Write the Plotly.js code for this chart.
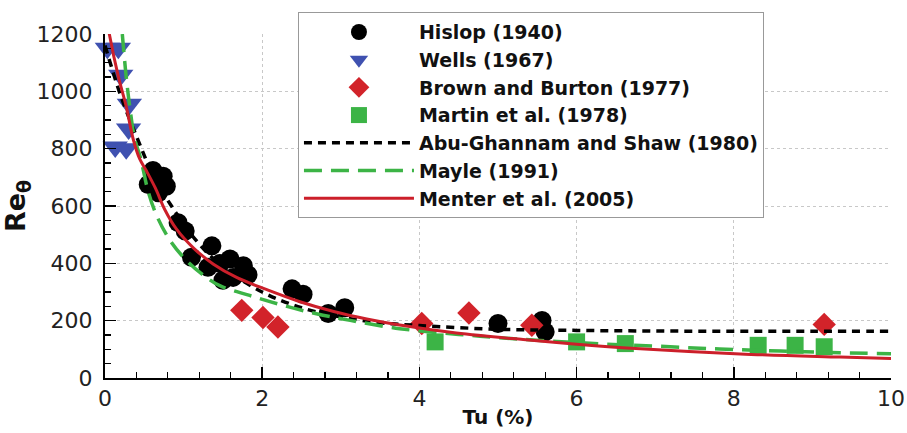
<!DOCTYPE html>
<html>
<head>
<meta charset="utf-8">
<script src="https://cdn.plot.ly/plotly-3.0.1.min.js"></script>
<style>html,body{margin:0;padding:0;background:#fff;}#chart{width:907px;height:433px;}</style>
</head>
<body>
<div id="chart"></div>
<script>
// Hislop (1940)
var hislopTu = [0.55, 0.61, 0.68, 0.74, 0.78, 0.93, 1.02, 1.10, 1.31, 1.36, 1.46, 1.50, 1.59, 1.63, 1.76, 1.82, 2.38, 2.52, 2.84, 3.05, 5.0, 5.56, 5.6];
var hislopRe = [675, 724, 646, 704, 669, 542, 513, 421, 386, 461, 399, 341, 415, 351, 392, 360, 311, 292, 225, 245, 190, 201, 161];
// Wells (1967)
var wellsTu = [0.03, 0.17, 0.20, 0.31, 0.30, 0.13, 0.27];
var wellsRe = [1150, 1150, 1056, 955, 869, 806, 800];
// Brown and Burton (1977)
var brownTu = [1.74, 2.01, 2.20, 4.03, 4.63, 5.43, 9.15];
var brownRe = [236, 211, 178, 190, 227, 184, 187];
// Martin et al. (1978)
var martinTu = [4.2, 6.0, 6.62, 8.31, 8.78, 9.15];
var martinRe = [126, 126, 120, 114, 114, 109];
// Abu-Ghannam and Shaw (1980)
var agsTu = [0, 0.2, 0.42, 0.6, 0.85, 1.19, 1.5, 2, 2.5, 3, 3.5, 4, 5, 6, 7, 8, 9, 10];
var agsRe = [1160, 985, 830, 715, 598, 470, 388, 300, 245, 213, 193, 183, 170, 166, 164, 163, 163, 163];
// Mayle (1991)
var mayleTu = [0.22, 0.27, 0.31, 0.38, 0.45, 0.55, 0.66, 0.83, 1.04, 1.29, 1.46, 1.84, 2.27, 2.69, 3.12, 3.75, 4.5, 5.2, 6.17, 7.02, 7.82, 8.6, 9.35, 10];
var mayleRe = [1200, 1050, 957, 830, 770, 650, 565, 479, 409, 351, 322, 288, 253, 224, 201, 172, 152, 137, 121, 111, 101, 94, 88, 85];
// Menter et al. (2005)
var menterTu = [0.04, 0.055, 0.17, 0.27, 0.36, 0.44, 0.53, 0.64, 0.76, 0.91, 1.12, 1.38, 1.68, 2.06, 2.48, 2.91, 3.33, 3.75, 4.47, 5.32, 6.0, 6.81, 8.08, 9.35, 10];
var menterRe = [1225, 1200, 1051, 947, 832, 765, 721, 663, 588, 519, 455, 397, 350, 308, 266, 232, 206, 185, 157, 134, 118, 102, 84, 73, 68];

var FONT = "DejaVu Sans";
var traces = [
  {x: hislopTu, y: hislopRe, name: 'Hislop (1940)', mode: 'markers', type: 'scatter', cliponaxis: false,
   marker: {symbol: 'circle', size: 19, color: '#000000'}},
  {x: wellsTu, y: wellsRe, name: 'Wells (1967)', mode: 'markers', type: 'scatter', cliponaxis: false,
   marker: {symbol: 'triangle-down', size: 22, color: '#3f51b0'}},
  {x: brownTu, y: brownRe, name: 'Brown and Burton (1977)', mode: 'markers', type: 'scatter', cliponaxis: false,
   marker: {symbol: 'diamond', size: 18, color: '#d2232a'}},
  {x: martinTu, y: martinRe, name: 'Martin et al. (1978)', mode: 'markers', type: 'scatter', cliponaxis: false,
   marker: {symbol: 'square', size: 17, color: '#3cb446'}},
  {x: agsTu, y: agsRe, name: 'Abu-Ghannam and Shaw (1980)', mode: 'lines', type: 'scatter', line: {shape: 'spline', color: '#000000', width: 3.5, dash: '8px,6px'}},
  {x: mayleTu, y: mayleRe, name: 'Mayle (1991)', mode: 'lines', type: 'scatter', line: {shape: 'spline', color: '#3cb446', width: 3.5, dash: '18px,9px'}},
  {x: menterTu, y: menterRe, name: 'Menter et al. (2005)', mode: 'lines', type: 'scatter', line: {shape: 'spline', color: '#cc1f2a', width: 3}}
];

var axisCommon = {
  showline: true, linecolor: '#000', linewidth: 2, mirror: false,
  ticks: 'inside', ticklen: 11, tickwidth: 1.5, tickcolor: '#000',
  showgrid: true, gridcolor: '#c8c8c8', gridwidth: 1, griddash: 'dot',
  zeroline: false,
  tickfont: {family: FONT, size: 22, color: '#222'}
};

var layout = {
  width: 907, height: 433,
  margin: {l: 105, r: 16, t: 32, b: 55},
  paper_bgcolor: '#fff', plot_bgcolor: '#fff',
  showlegend: true,
  xaxis: Object.assign({}, axisCommon, {
    range: [0, 10], tickvals: [0, 2, 4, 6, 8, 10],
    minor: {ticks: 'inside', ticklen: 6, tickwidth: 1.2, tickcolor: '#000', dtick: 0.4, tick0: 0, showgrid: false},
    title: {text: 'Tu (%)', font: {family: FONT, size: 20, color: '#111', weight: 'bold'}, standoff: 0}
  }),
  yaxis: Object.assign({}, axisCommon, {
    range: [0, 1200], tickvals: [0, 200, 400, 600, 800, 1000, 1200],
    ticklabelstandoff: 6,
    minor: {ticks: 'inside', ticklen: 6, tickwidth: 1.2, tickcolor: '#000', dtick: 50, tick0: 0, showgrid: false},
    title: {text: 'Re<sub>θ</sub>', font: {family: FONT, size: 27, color: '#111', weight: 'bold'}, standoff: 6}
  }),
  legend: {
    x: 0.2455, y: 1.0636, xanchor: 'left', yanchor: 'top',
    bgcolor: '#fff', bordercolor: '#999', borderwidth: 1,
    font: {family: FONT, size: 19, color: '#111', weight: 'bold'},
    itemwidth: 110, traceorder: 'normal'
  }
};

Plotly.newPlot('chart', traces, layout, {displayModeBar: false, staticPlot: true});
</script>
</body>
</html>
